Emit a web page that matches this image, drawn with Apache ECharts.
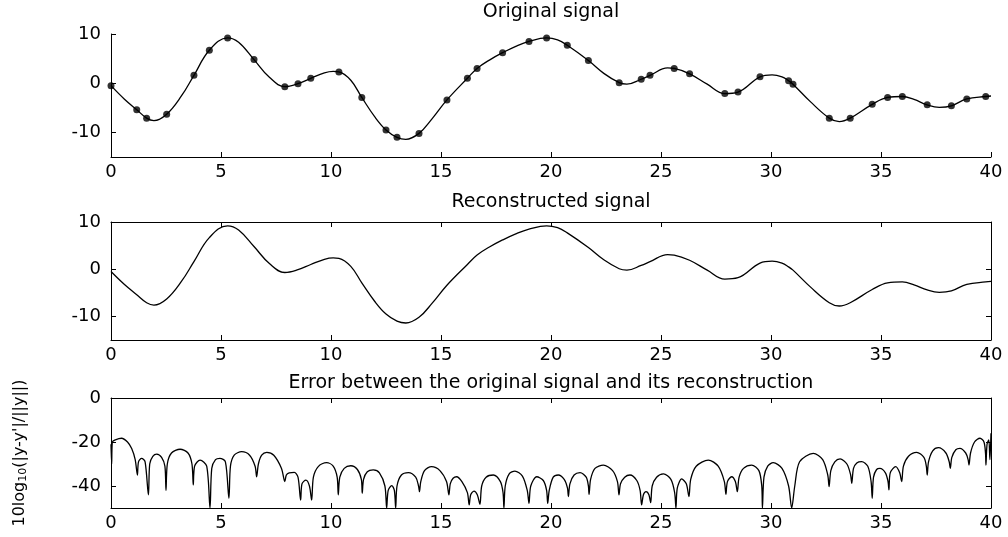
<!DOCTYPE html>
<html>
<head>
<meta charset="utf-8">
<script src="https://cdn.jsdelivr.net/npm/echarts@6/dist/echarts.min.js"></script>
<style>html,body{margin:0;padding:0;background:#fff;}#c{width:1008px;height:537px;}</style>
</head>
<body>
<div id="c"></div>
<script>
// ---- data ----
const titles = ['Original signal', 'Reconstructed signal', 'Error between the original signal and its reconstruction'];
const errorAxisName = '10log{sub|10}(|y-y\'|/||y||)';
const signalYTicks = [-10, 0, 10];
const errorYTicks = [-40, -20, 0];

const sigX = [0,0.6,1.17,1.62,1.95,2.53,3.2,3.77,4.47,5.3,5.8,6.5,7.2,7.9,8.5,9.08,9.7,10.1,10.36,10.9,11.4,12.0,12.5,13.0,13.4,14.0,14.6,15.27,16.2,16.64,17.2,17.8,18.4,19.0,19.8,20.3,20.74,21.7,22.4,23.1,23.45,24.1,24.5,25.3,25.6,26.3,27.1,27.9,28.5,29.5,30.05,30.5,30.8,31.0,31.8,32.65,33.1,33.6,34.6,35.3,35.97,36.5,37.1,37.65,38.2,38.9,39.76,40];
const sigY = [-0.5,-3.2,-5.4,-7.1,-7.6,-6.3,-2.6,1.6,6.7,9.2,8.3,4.8,1.2,-0.7,-0.1,1.0,2.1,2.4,2.3,0.6,-2.9,-6.9,-9.5,-11.0,-11.4,-10.2,-7.2,-3.4,1.0,3.0,4.7,6.2,7.5,8.5,9.2,8.8,7.7,4.6,2.0,0.1,-0.2,0.8,1.6,3.1,3.0,1.9,-0.2,-2.1,-1.8,1.3,1.7,1.3,0.5,-0.2,-3.8,-7.1,-7.8,-7.1,-4.3,-2.9,-2.7,-3.3,-4.4,-4.9,-4.6,-3.2,-2.7,-2.6];

const dotX = [0,1.17,1.62,2.53,3.77,4.47,5.3,6.5,7.9,8.5,9.08,10.36,11.4,12.5,13.0,14.0,15.27,16.2,16.64,17.8,19.0,19.8,20.74,21.7,23.1,24.1,24.5,25.6,26.3,27.9,28.5,29.5,30.8,31.0,32.65,33.6,34.6,35.3,35.97,37.1,38.2,38.9,39.76];
const dotY = [-0.5,-5.4,-7.1,-6.3,1.6,6.7,9.2,4.8,-0.7,-0.1,1.0,2.3,-2.9,-9.5,-11.0,-10.2,-3.4,1.0,3.0,6.2,8.5,9.2,7.7,4.6,0.1,0.8,1.6,3.0,1.9,-2.1,-1.8,1.3,0.5,-0.2,-7.1,-7.1,-4.3,-2.9,-2.7,-4.4,-4.6,-3.2,-2.7];

const errX = [0,0.03,0.06,0.2,0.48,0.75,0.94,1.1,1.2,1.25,1.39,1.55,1.7,1.76,1.9,2.08,2.3,2.45,2.5,2.56,2.75,3.14,3.5,3.68,3.74,3.8,4.05,4.35,4.5,4.58,4.75,4.95,5.2,5.36,5.43,5.6,5.94,6.3,6.55,6.62,6.7,6.85,7.08,7.4,7.75,7.9,7.97,8.1,8.33,8.5,8.62,8.68,8.86,9.02,9.12,9.2,9.42,9.8,10.1,10.28,10.33,10.4,10.6,10.9,11.2,11.38,11.42,11.48,11.65,11.92,12.2,12.45,12.53,12.6,12.76,12.88,12.94,13.0,13.2,13.52,13.85,13.98,14.02,14.08,14.25,14.57,14.95,15.25,15.36,15.42,15.55,15.71,15.95,16.2,16.28,16.35,16.5,16.65,16.77,16.85,17.05,17.38,17.7,17.82,17.86,17.92,18.1,18.36,18.7,18.92,19.0,19.08,19.35,19.65,19.8,19.85,19.92,20.1,20.33,20.6,20.75,20.79,20.86,21.05,21.32,21.6,21.7,21.73,21.8,22.0,22.38,22.8,23.02,23.09,23.16,23.35,23.59,23.9,24.05,24.12,24.2,24.32,24.45,24.53,24.6,24.8,25.11,25.45,25.62,25.68,25.74,25.94,26.15,26.27,26.35,26.6,27.15,27.6,27.88,27.95,28.02,28.21,28.38,28.47,28.55,28.75,29.12,29.45,29.58,29.61,29.68,29.85,30.1,30.5,30.8,30.94,31.08,31.3,31.92,32.35,32.58,32.64,32.72,32.9,33.14,33.45,33.62,33.67,33.75,33.9,34.12,34.4,34.55,34.6,34.66,34.8,34.95,35.2,35.32,35.36,35.42,35.67,35.85,35.94,36.02,36.25,36.62,36.95,37.06,37.1,37.16,37.35,37.61,37.95,38.1,38.15,38.22,38.4,38.59,38.85,38.96,39.0,39.07,39.25,39.5,39.68,39.75,39.77,39.82,39.9,39.95,40];
const errY = [-21,-30,-20,-19,-18.3,-20,-23,-28,-35,-29,-27.4,-29,-44,-30,-26.5,-25.5,-27,-31,-42,-30,-25,-23.3,-25,-30,-39.5,-31,-28.2,-31,-50,-32,-28,-27.4,-29,-45.6,-31,-26,-24.4,-26,-31,-35.8,-30,-26,-24.7,-26,-32,-38,-35,-34,-33.8,-36,-46.4,-39,-37.3,-40,-46.4,-36,-31.2,-29.4,-31,-36,-44,-36,-32,-30.8,-32.5,-37,-43.3,-37,-33.5,-32.7,-34,-40,-50,-42,-39.8,-42,-50,-40,-35,-33.9,-36,-40,-42.6,-38,-33,-31.2,-33,-38,-44,-39,-36.5,-35.8,-38,-43,-48.6,-44,-42.3,-44,-48.3,-40,-36,-35,-38,-43,-50,-40,-34.5,-33.2,-35.5,-42,-47.9,-40,-35.8,-37.5,-42,-47.9,-42,-36,-35,-37,-41,-44.8,-39,-35,-33.9,-36,-40,-43.8,-37,-32,-30.5,-33,-38,-44,-39,-36,-35,-37.5,-42,-48.6,-44,-42.6,-44,-47.6,-40,-36,-34.5,-37,-43,-50,-41,-36.8,-39,-44.8,-37,-31,-28.2,-31,-38,-43.8,-38,-35.8,-38,-42.6,-36,-32,-30.5,-33,-40,-50,-36,-31,-29.4,-32,-40,-50,-40,-29,-25.2,-28,-35,-40.3,-33,-29,-27.7,-30,-35,-38.8,-32,-29.5,-28.9,-31,-38,-45.6,-36,-32.5,-32,-34,-38,-41.8,-34,-31.2,-34,-38,-31,-26.5,-24.7,-27,-31,-35,-29,-24,-22.6,-25,-29,-32,-27,-23.5,-22.9,-25,-28,-30.5,-25,-20,-18.3,-20,-25,-30.5,-21,-19,-28,-16];

// ---- chart ----
const FONT = 'DejaVu Sans';
const pairs = (xs, ys) => xs.map((x, i) => [x, ys[i]]);
const sig = pairs(sigX, sigY), dots = pairs(dotX, dotY), err = pairs(errX, errY);

const LEFT = 111, RIGHT = 17;
const grids = [
  {left: LEFT, right: RIGHT, top: 34, height: 123},
  {left: LEFT, right: RIGHT, top: 222, height: 118},
  {left: LEFT, right: RIGHT, top: 398, height: 110}
];
const lineStyle = {color: '#000', width: 1};
const labelStyle = {color: '#000', fontFamily: FONT, fontSize: 18};

function xAx(grid, pos, labels) {
  return {
    type: 'value', gridIndex: grid, position: pos, min: 0, max: 40, interval: 5,
    axisLine: {show: true, onZero: false, lineStyle},
    axisTick: {show: true, inside: true, length: 5, lineStyle},
    axisLabel: {show: labels, margin: 6, ...labelStyle},
    splitLine: {show: false}
  };
}
function yAx(grid, pos, min, max, ticks, labels) {
  return {
    type: 'value', gridIndex: grid, position: pos, min, max,
    axisLine: {show: true, onZero: false, lineStyle},
    axisTick: {show: true, inside: true, length: 5, lineStyle, customValues: ticks},
    axisLabel: {show: labels, margin: 10, ...labelStyle, customValues: ticks},
    splitLine: {show: false}
  };
}

const option = {
  animation: false,
  backgroundColor: '#fff',
  title: titles.map((t, i) => ({
    text: t, left: 551, top: [3, 193, 374][i], textAlign: 'center', padding: 0,
    textStyle: {color: '#000', fontFamily: FONT, fontSize: 19, fontWeight: 'normal'}
  })),
  graphic: [{
    type: 'group', x: 20, y: 453, rotation: Math.PI / 2,
    children: [{
      type: 'text', x: 0, y: 0,
      style: {
        text: errorAxisName, fill: '#000', fontSize: 16, fontFamily: FONT,
        align: 'center', verticalAlign: 'middle',
        rich: {sub: {fontSize: 11, fontFamily: FONT, fill: '#000', padding: [7, 0, 0, 0]}}
      }
    }]
  }],
  grid: grids,
  xAxis: [
    xAx(0, 'bottom', true),
    xAx(1, 'bottom', true),
    xAx(1, 'top', false),
    xAx(2, 'bottom', true),
    xAx(2, 'top', false)
  ],
  yAxis: [
    yAx(0, 'left', -15, 10, signalYTicks, true),
    yAx(1, 'left', -15, 10, signalYTicks, true),
    yAx(1, 'right', -15, 10, signalYTicks, false),
    yAx(2, 'left', -50, 0, errorYTicks, true),
    yAx(2, 'right', -50, 0, errorYTicks, false)
  ],
  series: [
    {type: 'line', xAxisIndex: 0, yAxisIndex: 0, data: sig, smooth: 0.4, showSymbol: false, lineStyle: {color: '#000', width: 1.3}},
    {type: 'scatter', xAxisIndex: 0, yAxisIndex: 0, data: dots, symbolSize: 7, itemStyle: {color: '#000'}},
    {type: 'line', xAxisIndex: 1, yAxisIndex: 1, data: sig, smooth: 0.4, showSymbol: false, lineStyle: {color: '#000', width: 1.3}},
    {type: 'line', xAxisIndex: 3, yAxisIndex: 3, data: err, smooth: 0.3, showSymbol: false, lineStyle: {color: '#000', width: 1.3}}
  ]
};
echarts.init(document.getElementById('c'), null, {renderer: 'canvas'}).setOption(option);
</script>
</body>
</html>
